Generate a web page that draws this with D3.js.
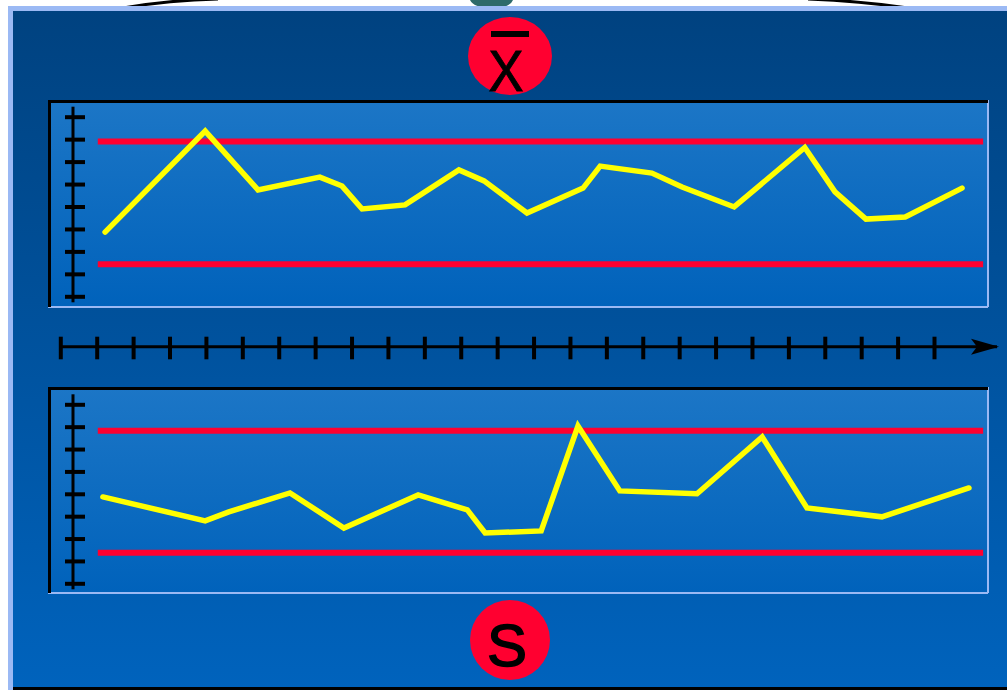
<!DOCTYPE html>
<html>
<head>
<meta charset="utf-8">
<script src="https://cdn.jsdelivr.net/npm/d3@7"></script>
<style>
  body { margin: 0; background: #fff; }
  svg { display: block; }
</style>
</head>
<body>
<svg id="chart" width="1007" height="690"></svg>
<script>
// subgroup index along the time axis (0..24)
var sampleTicks = d3.range(0, 25);
var yTicks = d3.range(0, 9);

// x-bar chart
var xbarIdx = [1.23, 3.98, 5.43, 7.13, 7.74, 8.29, 9.47, 10.95, 11.64, 12.82, 14.36, 14.83, 16.25, 17.08, 18.51, 20.45, 21.28, 22.13, 23.21, 24.77];
var xbarVal = [2.86, 7.36, 4.74, 5.31, 4.91, 3.89, 4.07, 5.63, 5.14, 3.71, 4.82, 5.80, 5.49, 4.87, 3.98, 6.63, 4.65, 3.44, 3.53, 4.82];
var xbarLimits = [6.89, 1.43];

// s chart
var sIdx = [1.17, 3.98, 4.63, 6.31, 7.79, 9.83, 11.18, 11.67, 13.21, 14.22, 15.37, 17.49, 19.28, 20.51, 22.57, 24.96];
var sVal = [3.86, 2.79, 3.19, 4.04, 2.47, 3.95, 3.28, 2.25, 2.34, 7.03, 4.13, 4.00, 6.54, 3.37, 2.97, 4.26];
var sLimits = [6.82, 1.37];

var limitSpan = [1.03, 25.35];

var svg = d3.select("#chart");
var defs = svg.append("defs");

var bg = defs.append("linearGradient").attr("id", "bg").attr("x1", 0).attr("y1", 0).attr("x2", 0).attr("y2", 1);
bg.append("stop").attr("offset", "0%").attr("stop-color", "#004280");
bg.append("stop").attr("offset", "100%").attr("stop-color", "#0063bd");

var pg = defs.append("linearGradient").attr("id", "pg").attr("x1", 0).attr("y1", 0).attr("x2", 0).attr("y2", 1);
pg.append("stop").attr("offset", "0%").attr("stop-color", "#1c76c6");
pg.append("stop").attr("offset", "100%").attr("stop-color", "#0062bb");

defs.append("marker")
    .attr("id", "arrow")
    .attr("viewBox", "0 0 28 18")
    .attr("refX", 26).attr("refY", 9)
    .attr("markerWidth", 28).attr("markerHeight", 18)
    .attr("markerUnits", "userSpaceOnUse")
    .attr("orient", "auto")
  .append("path")
    .attr("d", "M0,1 L28,9 L0,17 L6,9 Z")
    .attr("fill", "#000");

// bits of the slide sticking out above the frame
svg.append("path")
    .attr("d", "M123,8 Q170,0 218,-1")
    .attr("fill", "none").attr("stroke", "#000").attr("stroke-width", 3);
svg.append("path")
    .attr("d", "M808,-1 Q860,1 908,8")
    .attr("fill", "none").attr("stroke", "#000").attr("stroke-width", 3);
svg.append("path")
    .attr("d", "M470,0 L513,0 Q510,8 492,8 Q474,8 470,0 Z")
    .attr("fill", "#2e6a6a");

// outer frame
svg.append("rect").attr("x", 8).attr("y", 6).attr("width", 1010).attr("height", 690).attr("fill", "#9bb9f4");
svg.append("rect").attr("x", 13).attr("y", 11).attr("width", 1000).attr("height", 680).attr("fill", "url(#bg)");
svg.append("rect").attr("x", 13).attr("y", 687).attr("width", 1000).attr("height", 3).attr("fill", "#000");

var x = d3.scaleLinear().domain([0, 24]).range([60.3, 934]);

function panel(top, bottom, yTop, yBottom, idx, vals, limits) {
  var g = svg.append("g");
  g.append("rect")
      .attr("x", 48).attr("y", top).attr("width", 940).attr("height", bottom - top)
      .attr("fill", "url(#pg)");
  // bevel: dark top/left, light bottom/right
  g.append("path")
      .attr("d", "M988," + bottom + " L988," + top + " M48," + bottom + " L988," + bottom)
      .attr("stroke", "#9bb9f4").attr("stroke-width", 2).attr("fill", "none");
  g.append("path")
      .attr("d", "M49.5," + bottom + " L49.5," + (top + 1.5) + " L988," + (top + 1.5))
      .attr("stroke", "#000").attr("stroke-width", 3).attr("fill", "none");

  var y = d3.scaleLinear().domain([0, 8]).range([yBottom, yTop]);

  var ax = g.append("g")
      .attr("transform", "translate(73,0)")
      .call(d3.axisLeft(y).tickValues(yTicks).tickFormat("").tickSizeOuter(0));
  ax.select(".domain").remove();
  ax.selectAll(".tick line")
      .attr("x1", -8).attr("x2", 12)
      .attr("stroke", "#000").attr("stroke-width", 4);
  ax.append("line")
      .attr("x1", 0).attr("x2", 0)
      .attr("y1", y(8) - 10).attr("y2", y(0) + 6)
      .attr("stroke", "#000").attr("stroke-width", 3);

  g.selectAll(".limit")
      .data(limits)
    .enter().append("line")
      .attr("class", "limit")
      .attr("x1", x(limitSpan[0])).attr("x2", x(limitSpan[1]))
      .attr("y1", function(d) { return y(d); })
      .attr("y2", function(d) { return y(d); })
      .attr("stroke", "#ff0030").attr("stroke-width", 6);

  var line = d3.line()
      .x(function(d, i) { return x(idx[i]); })
      .y(function(d) { return y(d); });

  g.append("path")
      .datum(vals)
      .attr("d", line)
      .attr("fill", "none")
      .attr("stroke", "#ffff00")
      .attr("stroke-width", 5.5)
      .attr("stroke-linecap", "round")
      .attr("stroke-linejoin", "miter");
}

panel(100, 307, 116.7, 296.3, xbarIdx, xbarVal, xbarLimits);
panel(387, 593, 404.3, 583.3, sIdx, sVal, sLimits);

// time axis between the panels
var tAxis = svg.append("g")
    .attr("transform", "translate(0,346.7)")
    .call(d3.axisBottom(x).tickValues(sampleTicks).tickFormat("").tickSizeOuter(0));
tAxis.select(".domain").remove();
tAxis.selectAll(".tick line")
    .attr("y1", -10).attr("y2", 12.6)
    .attr("stroke", "#000").attr("stroke-width", 4);
tAxis.append("line")
    .attr("x1", x(0)).attr("x2", 997)
    .attr("y1", 0).attr("y2", 0)
    .attr("stroke", "#000").attr("stroke-width", 3)
    .attr("marker-end", "url(#arrow)");

// chart badges
svg.append("ellipse")
    .attr("cx", 510).attr("cy", 56).attr("rx", 42).attr("ry", 39)
    .attr("fill", "#ff0030");
svg.append("rect")
    .attr("x", 491).attr("y", 31).attr("width", 38).attr("height", 6)
    .attr("fill", "#000");
svg.append("text")
    .attr("x", 506).attr("y", 91)
    .attr("text-anchor", "middle")
    .attr("font-family", "Liberation Sans, Arial, sans-serif")
    .attr("font-size", 57)
    .attr("fill", "#000")
    .attr("stroke", "#000").attr("stroke-width", 1)
    .attr("transform", "translate(506,0) scale(0.92,1) translate(-506,0)")
    .text("X");

svg.append("circle")
    .attr("cx", 510).attr("cy", 640).attr("r", 40)
    .attr("fill", "#ff0030");
svg.append("text")
    .attr("x", 507).attr("y", 666)
    .attr("text-anchor", "middle")
    .attr("font-family", "Liberation Sans, Arial, sans-serif")
    .attr("font-size", 60)
    .attr("fill", "#000")
    .attr("stroke", "#000").attr("stroke-width", 1.5)
    .text("S");
</script>
</body>
</html>
